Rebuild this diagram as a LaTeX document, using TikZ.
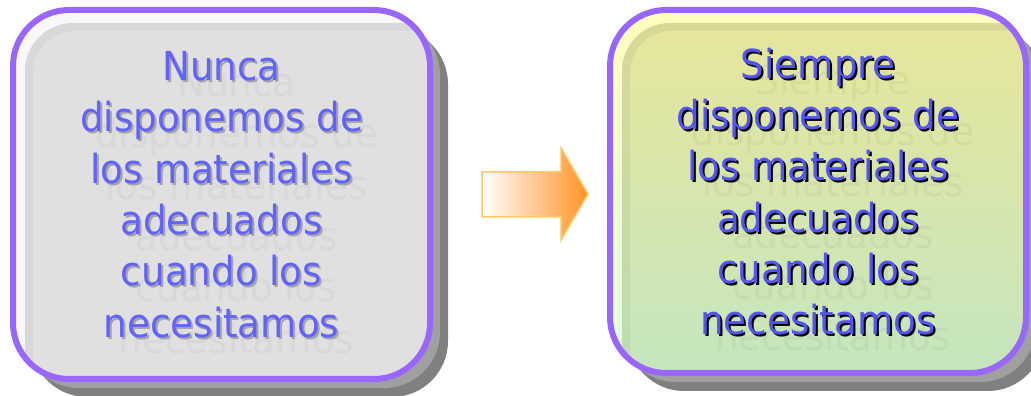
\documentclass[tikz,border=0pt]{standalone}
\usepackage{fontspec}
\setmainfont{DejaVu Sans}[FakeStretch=0.93]
\usetikzlibrary{backgrounds}

\definecolor{boxborder}{HTML}{9966FF}
\definecolor{shadowlight}{HTML}{A0A0A0}
\definecolor{shadowdark}{HTML}{808080}
\definecolor{lefthl}{HTML}{F8F8F8}
\definecolor{leftring}{HTML}{D8D8D8}
\definecolor{leftfill}{HTML}{E0E0E0}
\definecolor{lefttext}{HTML}{6262FF}
\definecolor{leftshade}{HTML}{A4A4A8}
\definecolor{leftghost}{HTML}{D8D8D8}
\definecolor{righthltop}{HTML}{FFFFC0}
\definecolor{righthlbot}{HTML}{E0FFE0}
\definecolor{rightringtop}{HTML}{D9D994}
\definecolor{rightringbot}{HTML}{B8DCB8}
\definecolor{rightfilltop}{HTML}{E6E69C}
\definecolor{rightfillbot}{HTML}{C2E6C2}
\definecolor{righttext}{HTML}{5454F0}
\definecolor{arrowline}{HTML}{FFC864}
\definecolor{arroworange}{HTML}{FF9326}

\newcommand{\nuncatxt}{Nunca\\disponemos de\\los materiales\\adecuados\\cuando los\\necesitamos}
\newcommand{\siempretxt}{Siempre\\disponemos de\\los materiales\\adecuados\\cuando los\\necesitamos}

\begin{document}
\begin{tikzpicture}[x=1pt, y=1pt,
    box/.style={draw=boxborder, line width=6pt, rounded corners=56pt, outer sep=0pt, inner sep=0pt,
      align=center, font=\fontsize{40}{51.3}\selectfont},
    words/.style={align=center, inner sep=0pt, font=\fontsize{40}{51.3}\selectfont}]
    \useasboundingbox (0,0) rectangle (1031,396);

    \node[box, fill=lefthl, text=lefttext, minimum width=417pt, minimum height=369pt,
      path picture={
        \fill[leftring, rounded corners=48pt] ([shift={(12,-13)}]path picture bounding box.north west) rectangle ([shift={(30,-30)}]path picture bounding box.south east);
        \fill[leftfill, rounded corners=42pt] ([shift={(20,-21)}]path picture bounding box.north west) rectangle ([shift={(30,-30)}]path picture bounding box.south east);
        \node[words, text=leftghost] at ([shift={(15,-16)}]path picture bounding box.center) {\nuncatxt};
        \node[words, text=leftshade] at ([shift={(2,-2)}]path picture bounding box.center) {\nuncatxt};
      }] (nunca) at (221.5,201.5) {\nuncatxt};

    \node[box, top color=righthltop, bottom color=righthlbot, text=righttext, minimum width=416pt, minimum height=363pt,
      path picture={
        \shade[top color=rightringtop, bottom color=rightringbot, rounded corners=48pt] ([shift={(12,-13)}]path picture bounding box.north west) rectangle ([shift={(30,-30)}]path picture bounding box.south east);
        \shade[top color=rightfilltop, bottom color=rightfillbot, rounded corners=42pt] ([shift={(20,-21)}]path picture bounding box.north west) rectangle ([shift={(30,-30)}]path picture bounding box.south east);
        \node[words, text=black, opacity=0.04] at ([shift={(15,-16)}]path picture bounding box.center) {\siempretxt};
        \node[words, text=black] at ([shift={(2,-2)}]path picture bounding box.center) {\siempretxt};
      }] (siempre) at (818,204.5) {\siempretxt};

    % drop shadows behind both boxes
    \begin{scope}[on background layer]
      \foreach \b in {nunca,siempre} {
        \fill[shadowdark, rounded corners=56pt] ([shift={(18,-18)}]\b.north west) rectangle ([shift={(18,-18)}]\b.south east);
        \fill[shadowlight, rounded corners=56pt] ([shift={(10,-9)}]\b.north west) rectangle ([shift={(10,-9)}]\b.south east);
      }
    \end{scope}

    \path[draw=arrowline, line width=1.5pt, left color=white, right color=arroworange]
      (482,224) -- (561,224) -- (561,248) -- (588,202) -- (561,156) -- (561,179) -- (482,179) -- cycle;
\end{tikzpicture}
\end{document}
